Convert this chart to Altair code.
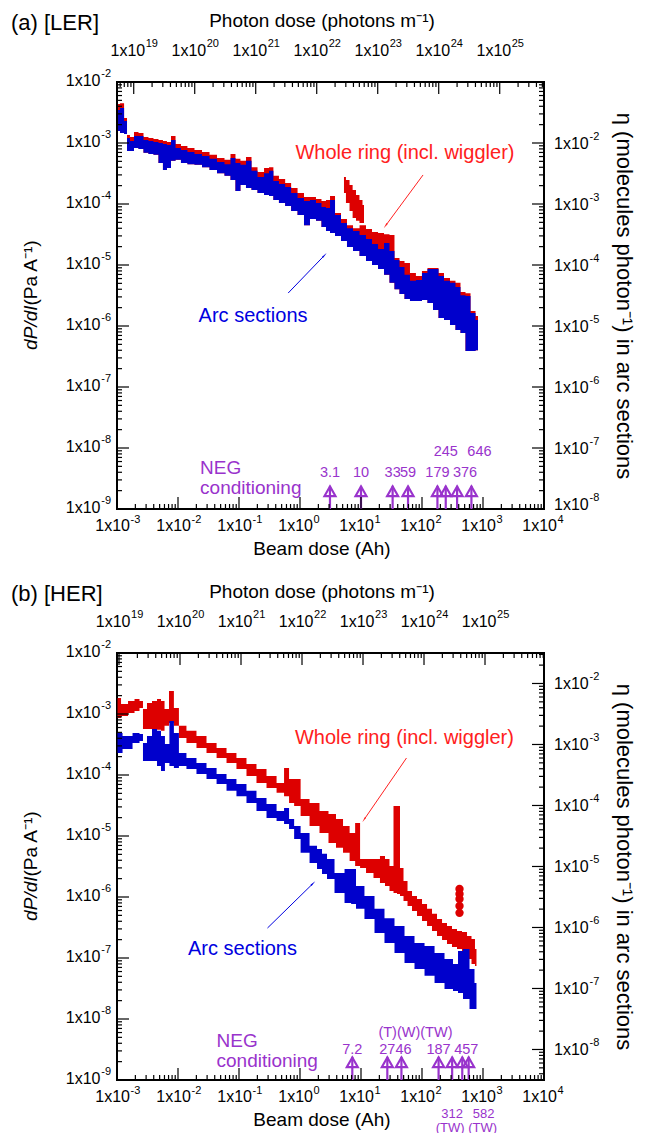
import math
import altair as alt
import pandas as pd

# ---------------- values ----------------
# (a) LER : beam dose (Ah) and dP/dI band (upper / lower edge, Pa/A)
ler_dose = [1.04e-3, 1.21e-3, 1.41e-3, 1.51e-3, 1.76e-3, 2.05e-3, 2.47e-3, 2.99e-3, 3.6e-3, 4.36e-3,
            5.26e-3, 6.1e-3, 7.1e-3, 8.3e-3, 1.0e-2, 1.25e-2, 1.63e-2, 2.13e-2, 2.88e-2, 3.75e-2,
            5.07e-2, 6.6e-2, 7.98e-2, 9.6e-2, 0.116, 0.146, 0.176, 0.23, 0.288, 0.335,
            0.40, 0.51, 0.64, 0.80, 1.04, 1.30, 1.63, 2.05, 2.47, 2.88,
            3.35, 4.2, 5.26, 6.6, 8.3, 10.8, 13.5, 17.0, 21.3, 26.7,
            32.2, 38.9, 47.0, 56.8, 71, 89, 112, 135, 170, 205,
            257, 322, 389, 470, 568, 686, 828]
ler_arc_hi = [3.47e-3, 3.75e-3, 2.30e-3, 1.21e-3, 1.08e-3, 1.30e-3, 1.30e-3, 1.12e-3, 1.08e-3, 1.04e-3,
              1.0e-3, 9.6e-4, 9.3e-4, 1.12e-3, 8.3e-4, 7.7e-4, 7.1e-4, 6.6e-4, 6.1e-4, 5.5e-4,
              4.9e-4, 4.5e-4, 5.7e-4, 4.7e-4, 4.4e-4, 5.1e-4, 3.5e-4, 2.77e-4, 3.2e-4, 3.5e-4,
              2.38e-4, 2.13e-4, 1.90e-4, 1.51e-4, 1.25e-4, 1.12e-4, 1.16e-4, 1.04e-4, 8.9e-5, 8.6e-5,
              1.16e-4, 6.6e-5, 4.9e-5, 4.0e-5, 3.6e-5, 3.1e-5, 2.67e-5, 2.21e-5, 1.83e-5, 2.3e-5,
              1.70e-5, 1.21e-5, 9.3e-6, 6.9e-6, 5.5e-6, 5.7e-6, 7.4e-6, 8.6e-6, 8.6e-6, 6.6e-6,
              5.5e-6, 5.1e-6, 4.36e-6, 3.2e-6, 3.1e-6, 1.63e-6, 1.25e-6]
ler_arc_lo = [1.57e-3, 1.46e-3, 1.41e-3, 7.4e-4, 7.4e-4, 8.3e-4, 8.0e-4, 6.9e-4, 6.6e-4, 6.4e-4,
              4.7e-4, 3.6e-4, 3.9e-4, 5.1e-4, 5.3e-4, 4.7e-4, 4.5e-4, 4.4e-4, 4.0e-4, 3.6e-4,
              3.2e-4, 2.9e-4, 2.47e-4, 1.63e-4, 2.05e-4, 1.83e-4, 1.70e-4, 1.51e-4, 1.41e-4, 1.35e-4,
              1.16e-4, 1.04e-4, 9.3e-5, 7.7e-5, 6.6e-5, 4.5e-5, 5.7e-5, 5.3e-5, 4.2e-5, 3.6e-5,
              3.35e-5, 3.0e-5, 2.47e-5, 1.97e-5, 1.70e-5, 1.41e-5, 1.16e-5, 1.0e-5, 8.6e-6, 6.9e-6,
              5.1e-6, 4.0e-6, 3.35e-6, 2.77e-6, 2.57e-6, 2.57e-6, 2.67e-6, 2.38e-6, 1.83e-6, 1.35e-6,
              1.25e-6, 1.04e-6, 8.6e-7, 7.7e-7, 3.9e-7, 3.9e-7, 4.0e-7]
ler_whole_hi = [4.36e-3, 4.5e-3, 2.57e-3, 1.35e-3, 1.25e-3, 1.51e-3, 1.46e-3, 1.25e-3, 1.21e-3, 1.16e-3,
                1.12e-3, 1.08e-3, 1.04e-3, 1.30e-3, 9.6e-4, 8.9e-4, 8.3e-4, 7.7e-4, 7.1e-4, 6.4e-4,
                5.7e-4, 5.3e-4, 6.6e-4, 5.5e-4, 5.1e-4, 5.9e-4, 4.0e-4, 3.35e-4, 3.9e-4, 4.0e-4,
                2.9e-4, 2.57e-4, 2.21e-4, 1.83e-4, 1.51e-4, 1.30e-4, 1.30e-4, 1.21e-4, 1.12e-4, 1.16e-4,
                1.35e-4, 7.1e-5, 5.7e-5, 4.5e-5, 4.0e-5, 4.5e-5, 3.9e-5, 3.47e-5, 3.35e-5, 3.2e-5,
                3.1e-5, 1.30e-5, 1.16e-5, 1.08e-5, 7.4e-6, 6.6e-6, 8.0e-6, 8.9e-6, 8.9e-6, 7.4e-6,
                6.1e-6, 5.5e-6, 5.1e-6, 3.6e-6, 3.45e-6, 1.76e-6, 1.46e-6]
ler_whole_lo = ler_arc_lo  # lower edge of the red band lies under the blue band
ler_wig_dose = [5.26, 6.1, 6.9, 7.7, 8.9, 10.0, 11.2]
ler_wig_hi = [2.77e-4, 2.47e-4, 2.05e-4, 1.70e-4, 1.41e-4, 1.16e-4, 9.6e-5]
ler_wig_lo = [1.51e-4, 1.04e-4, 7.7e-5, 5.9e-5, 5.3e-5, 4.9e-5, 4.9e-5]

# (b) HER
her_whole_dose = [1.02e-3, 1.33e-3, 1.73e-3, 2.17e-3, 2.52e-3, 2.82e-3, 3.41e-3, 4.12e-3, 4.98e-3, 5.57e-3,
                  6.5e-3, 7.8e-3, 9.4e-3, 1.14e-2, 1.66e-2, 2.43e-2, 3.54e-2, 5.2e-2, 7.5e-2, 0.110,
                  0.160, 0.234, 0.341, 0.50, 0.60, 0.73, 0.88, 1.19, 1.73, 2.52,
                  3.41, 4.44, 5.8, 7.3, 8.8, 10.6, 13.8, 18.6, 22.5, 27.2,
                  31.6, 36.8, 41.2, 46.1, 53.7, 62.4, 75.4, 91, 110, 133,
                  160, 194, 234, 282, 341, 412, 498, 601, 698, 782]
her_whole_hi = [1.83e-3, 1.46e-3, 1.63e-3, 1.76e-3, 1.63e-3, 1.21e-3, 1.51e-3, 1.63e-3, 1.76e-3, 1.63e-3,
                1.21e-3, 2.38e-3, 1.25e-3, 6.4e-4, 5.3e-4, 4.36e-4, 3.35e-4, 2.77e-4, 2.3e-4, 1.90e-4,
                1.51e-4, 1.25e-4, 9.6e-5, 7.4e-5, 1.30e-4, 8.6e-5, 8.6e-5, 4.05e-5, 3.47e-5, 2.57e-5,
                2.3e-5, 1.90e-5, 1.46e-5, 1.12e-5, 1.63e-5, 4.2e-6, 4.2e-6, 4.2e-6, 4.7e-6, 4.2e-6,
                3.22e-6, 3.1e-5, 3.1e-5, 2.99e-6, 1.83e-6, 1.25e-6, 1.04e-6, 9.3e-7, 7.7e-7, 6.4e-7,
                5.3e-7, 4.36e-7, 3.75e-7, 3.35e-7, 2.99e-7, 2.77e-7, 2.67e-7, 2.3e-7, 2.05e-7, 1.41e-7]
her_whole_lo = [8.6e-4, 9.3e-4, 1.04e-3, 1.12e-3, 1.25e-3, 5.7e-4, 5.7e-4, 5.7e-4, 5.5e-4, 5.3e-4,
                6.4e-4, 7.1e-4, 6.4e-4, 4.05e-4, 3.35e-4, 2.77e-4, 2.3e-4, 1.90e-4, 1.57e-4, 1.25e-4,
                9.6e-5, 7.4e-5, 6.1e-5, 5.1e-5, 4.5e-5, 3.47e-5, 3.1e-5, 2.13e-5, 1.46e-5, 1.12e-5,
                7.7e-6, 6.4e-6, 5.3e-6, 3.9e-6, 3.22e-6, 2.99e-6, 2.47e-6, 2.05e-6, 1.70e-6, 1.51e-6,
                1.25e-6, 1.16e-6, 1.12e-6, 1.04e-6, 8.6e-7, 7.1e-7, 5.9e-7, 4.9e-7, 4.05e-7, 3.35e-7,
                2.77e-7, 2.3e-7, 1.97e-7, 1.70e-7, 1.51e-7, 1.41e-7, 1.16e-7, 9.6e-8, 8.0e-8, 7.4e-8]
her_whole_dots_dose = [412, 412, 412, 412, 412]
her_whole_dots = [1.35e-6, 1.12e-6, 9.3e-7, 7.1e-7, 5.5e-7]
her_arc_dose = [1.02e-3, 1.49e-3, 2.17e-3, 2.52e-3, 2.82e-3, 3.41e-3, 4.12e-3, 4.98e-3, 5.57e-3, 6.7e-3,
                7.8e-3, 9.4e-3, 1.14e-2, 1.66e-2, 2.43e-2, 3.54e-2, 5.2e-2, 7.5e-2, 0.110, 0.160,
                0.234, 0.341, 0.50, 0.60, 0.73, 0.88, 1.19, 1.73, 2.09, 2.52,
                3.05, 4.44, 6.5, 7.3, 9.4, 13.8, 20.1, 29.3, 42.8, 62.4,
                91, 133, 194, 282, 368, 412, 537, 673, 782]
her_arc_hi = [4.9e-4, 4.36e-4, 4.9e-4, 4.7e-4, 3.35e-4, 4.36e-4, 5.7e-4, 5.3e-4, 4.36e-4, 3.22e-4,
              7.7e-4, 4.9e-4, 2.3e-4, 1.90e-4, 1.57e-4, 1.30e-4, 1.04e-4, 8.6e-5, 7.1e-5, 5.5e-5,
              4.2e-5, 3.35e-5, 2.57e-5, 2.88e-5, 1.90e-5, 1.46e-5, 1.12e-5, 6.9e-6, 6.1e-6, 5.1e-6,
              4.2e-6, 2.47e-6, 2.88e-6, 2.88e-6, 1.51e-6, 1.04e-6, 6.4e-7, 4.5e-7, 3.35e-7, 2.3e-7,
              1.76e-7, 1.57e-7, 1.21e-7, 9.6e-8, 8.0e-8, 1.30e-7, 1.41e-7, 6.6e-8, 3.9e-8]
her_arc_lo = [2.3e-4, 2.67e-4, 3.35e-4, 3.6e-4, 1.70e-4, 1.70e-4, 1.70e-4, 1.41e-4, 1.16e-4, 1.57e-4,
              1.41e-4, 1.30e-4, 1.41e-4, 1.25e-4, 1.04e-4, 8.6e-5, 7.1e-5, 5.5e-5, 4.5e-5, 3.47e-5,
              2.57e-5, 1.97e-5, 1.76e-5, 1.57e-5, 1.30e-5, 8.9e-6, 5.3e-6, 3.6e-6, 2.88e-6, 2.38e-6,
              1.97e-6, 1.16e-6, 8.0e-7, 7.7e-7, 6.4e-7, 4.36e-7, 2.57e-7, 1.76e-7, 1.21e-7, 8.3e-8,
              6.6e-8, 5.1e-8, 3.9e-8, 3.1e-8, 2.88e-8, 2.67e-8, 2.13e-8, 1.46e-8, 1.46e-8]

# NEG conditioning doses (Ah)
ler_neg_dose = [3.1, 10, 33, 59, 179, 245, 376, 646]
ler_neg_text = ["3.1", "10", "33", "59", "179", "245", "376", "646"]
her_neg_dose = [7.2, 27, 46, 187, 312, 457, 582]
her_neg_text = ["7.2", "27", "46", "187", "312", "457", "582"]

# axis ranges
beam_range = [1e-3, 1e4]
dpdi_range = [1e-9, 1e-2]
ler_photon_range = [5.32e18, 5.32e25]
her_photon_range = [9.27e18, 9.27e25]
ler_eta_range = [1e-8, 1e-1]
her_eta_range = [3.16e-9, 3.16e-2]

# ---------------- styling ----------------
W = H = 427
FONT = "Liberation Sans"
RED, BLUE, PURPLE = "#DD0000", "#0000CC", "#9933CC"
TXT_RED, TXT_BLUE = "#FF2020", "#0000E0"
LBL, SUPSZ = 16, 11
TITLE_X = W / 2 - 9


def decades(dmin, dmax):
    e0, e1 = math.floor(math.log10(dmin)), math.ceil(math.log10(dmax))
    major, minor = [], []
    for e in range(e0, e1 + 1):
        for m in range(1, 10):
            v = m * 10.0 ** e
            if dmin * 0.9999 <= v <= dmax * 1.0001:
                (major if m == 1 else minor).append(v)
    return major, minor


def label_df(values, field):
    return pd.DataFrame({field: values, "base": ["1x10"] * len(values),
                         "sup": [str(round(math.log10(v))) for v in values]})


def title_axis(**kw):
    d = dict(labels=False, ticks=False, tickSize=0, domain=False, grid=False)
    d.update(kw)
    return alt.Axis(**d)


XMAJ, XMIN = decades(*beam_range)
YMAJ, YMIN = decades(*dpdi_range)
XS = alt.Scale(type="log", domain=beam_range)
YS = alt.Scale(type="log", domain=dpdi_range)
XAX = title_axis(orient="bottom", title="Beam dose (Ah)", titlePadding=30, titleX=TITLE_X)


def ex(f="x"):
    return alt.X(f"{f}:Q", scale=XS, axis=XAX)


def ey(f="y"):
    return alt.Y(f"{f}:Q", scale=YS, axis=None)


def band(dose, hi, lo, color):
    df = pd.DataFrame({"x": dose, "y": hi, "y2": lo})
    return alt.Chart(df).mark_area(color=color, opacity=1, interpolate="step").encode(
        x=ex(), y=ey(), y2="y2:Q")


def texts(xs, ys, ts, color, size, align="center", dx=0, **kw):
    df = pd.DataFrame({"x": xs, "y": ys, "t": ts})
    return alt.Chart(df).mark_text(color=color, fontSize=size, align=align, dx=dx,
                                   baseline="middle", font=FONT, **kw).encode(
        x=ex(), y=ey(), text="t:N")


def arrow(x1, y1, x2, y2, color, angle):
    df = pd.DataFrame({"x": [x1], "y": [y1], "x2": [x2], "y2": [y2]})
    line = alt.Chart(df).mark_rule(color=color, strokeWidth=1).encode(
        x=ex(), y=ey(), x2="x2:Q", y2="y2:Q")
    head = alt.Chart(df).mark_point(shape="wedge", filled=True, color=color, size=45,
                                    angle=angle, opacity=1).encode(x=ex("x2"), y=ey("y2"))
    return [line, head]


def neg_arrows(doses):
    n = len(doses)
    df = pd.DataFrame({"x": doses, "y": [1e-9] * n, "y2": [2.4e-9] * n, "yt": [1.95e-9] * n})
    shaft = alt.Chart(df).mark_rule(color=PURPLE, strokeWidth=2.2).encode(x=ex(), y=ey(), y2="y2:Q")
    tri = alt.Chart(df).mark_point(shape="triangle-up", filled=False, color=PURPLE,
                                   strokeWidth=2.2, size=120, opacity=1).encode(x=ex(), y=ey("yt"))
    return [shaft, tri]


def rule_ticks(vals, field, enc):
    return alt.Chart(pd.DataFrame({field: vals})).mark_rule(color="black", strokeWidth=1.2).encode(**enc)


def inner_axes():
    out = []
    for vals, ln in ((XMAJ, 12), (XMIN, 5)):
        out.append(rule_ticks(vals, "x", dict(x=ex(), y=alt.value(H), y2=alt.value(H - ln))))
    for vals, ln in ((YMAJ, 12), (YMIN, 5)):
        out.append(rule_ticks(vals, "y", dict(y=ey(), x=alt.value(0), x2=alt.value(ln))))
    # bottom labels 1x10^n
    bd = label_df(XMAJ, "x")
    out.append(alt.Chart(bd).mark_text(align="right", baseline="middle", fontSize=LBL, dx=13,
                                       color="black").encode(x=ex(), y=alt.value(H + 17), text="base:N"))
    out.append(alt.Chart(bd).mark_text(align="left", baseline="middle", fontSize=SUPSZ, dx=13.5,
                                       color="black").encode(x=ex(), y=alt.value(H + 11), text="sup:N"))
    # left labels
    ld = label_df(YMAJ, "y")
    out.append(alt.Chart(ld).mark_text(align="right", baseline="middle", fontSize=LBL, dy=-1,
                                       color="black").encode(y=ey(), x=alt.value(-16.5), text="base:N"))
    out.append(alt.Chart(ld).mark_text(align="right", baseline="middle", fontSize=SUPSZ, dy=-8,
                                       color="black").encode(y=ey(), x=alt.value(-6), text="sup:N"))
    # left title: italic dP/dI followed by (Pa A^-1)
    t1 = pd.DataFrame({"t": ["dP/dI"]})
    t2 = pd.DataFrame({"t": ["\u00a0(Pa A⁻¹)"]})
    out.append(alt.Chart(t1).mark_text(angle=270, align="right", baseline="middle", fontSize=19,
                                       fontStyle="italic", color="black").encode(
        x=alt.value(-86), y=alt.value(H / 2 + 10), text="t:N"))
    out.append(alt.Chart(t2).mark_text(angle=270, align="left", baseline="middle", fontSize=19,
                                       color="black").encode(
        x=alt.value(-86), y=alt.value(H / 2 + 10), text="t:N"))
    return out


def top_axis(prange):
    maj, mnr = decades(*prange)
    sc = alt.Scale(type="log", domain=prange)
    ax = title_axis(orient="top", title="Photon dose (photons m⁻¹)", titlePadding=52, titleX=TITLE_X)
    px = alt.X("p:Q", scale=sc, axis=ax)
    layers = [rule_ticks(maj, "p", dict(x=px, y=alt.value(0), y2=alt.value(12))),
              rule_ticks(mnr, "p", dict(x=px, y=alt.value(0), y2=alt.value(5)))]
    td = label_df(maj, "p")
    layers.append(alt.Chart(td).mark_text(align="right", baseline="middle", fontSize=LBL, dx=11.5,
                                          color="black").encode(x=px, y=alt.value(-31), text="base:N"))
    layers.append(alt.Chart(td).mark_text(align="left", baseline="middle", fontSize=SUPSZ, dx=12,
                                          color="black").encode(x=px, y=alt.value(-38), text="sup:N"))
    return alt.layer(*layers)


def right_axis(erange):
    maj, mnr = decades(*erange)
    labelled = [v for v in maj if v < 0.05]
    corner = [v for v in labelled if v <= erange[0] * 1.001]      # label sitting at the bottom corner
    normal = [v for v in labelled if v not in corner]
    sc = alt.Scale(type="log", domain=erange)
    ax = title_axis(orient="right", title="η (molecules photon⁻¹) in arc sections",
                    titlePadding=67, titleFontSize=22)
    py = alt.Y("e:Q", scale=sc, axis=ax)
    layers = [rule_ticks(maj, "e", dict(y=py, x=alt.value(W), x2=alt.value(W - 12))),
              rule_ticks(mnr, "e", dict(y=py, x=alt.value(W), x2=alt.value(W - 5)))]
    for vals, shift in ((normal, 1), (corner, -4)):
        if not vals:
            continue
        rd = label_df(vals, "e")
        layers.append(alt.Chart(rd).mark_text(align="left", baseline="middle", fontSize=LBL, dy=shift,
                                              color="black").encode(y=py, x=alt.value(W + 10), text="base:N"))
        layers.append(alt.Chart(rd).mark_text(align="left", baseline="middle", fontSize=SUPSZ, dy=shift - 7,
                                              color="black").encode(y=py, x=alt.value(W + 45.5), text="sup:N"))
    return alt.layer(*layers)


def tag_text(label):
    df = pd.DataFrame({"t": [label]})
    return alt.Chart(df).mark_text(align="left", baseline="middle", fontSize=22, font=FONT,
                                   color="black").encode(x=alt.value(-106), y=alt.value(-59), text="t:N")


def panel(inner_layers, prange, erange):
    inner = alt.layer(*inner_layers)
    return alt.layer(inner, top_axis(prange), right_axis(erange)).resolve_scale(
        x="independent", y="independent").properties(width=W, height=H)


# ---------------- panel (a) LER ----------------
raised = ["245", "646"]
shifted = ["376", "646"]
row_x = [d for d, t in zip(ler_neg_dose, ler_neg_text) if t not in raised and t not in shifted]
row_t = [t for t in ler_neg_text if t not in raised and t not in shifted]
a_layers = [
    band(ler_dose, ler_whole_hi, ler_whole_lo, RED),
    band(ler_wig_dose, ler_wig_hi, ler_wig_lo, RED),
    band(ler_dose, ler_arc_hi, ler_arc_lo, BLUE),
    texts([52.6], [6.9e-4], ["Whole ring (incl. wiggler)"], TXT_RED, 20),
    texts([0.17], [1.46e-6], ["Arc sections"], TXT_BLUE, 20),
    *arrow(104, 2.99e-4, 25.7, 4.5e-5, TXT_RED, 216),
    *arrow(0.64, 3.47e-6, 2.47, 1.41e-5, TXT_BLUE, 44),
    *neg_arrows(ler_neg_dose),
    texts([0.023, 0.023], [4.7e-9, 2.2e-9], ["NEG", "conditioning"], PURPLE, 19, align="left"),
    texts(row_x, [3.9e-9] * len(row_x), row_t, PURPLE, 14.5),
    texts([376], [3.9e-9], ["376"], PURPLE, 14.5, dx=8),
    texts([245], [8.6e-9], ["245"], PURPLE, 14.5),
    texts([646], [8.6e-9], ["646"], PURPLE, 14.5, dx=8),
    tag_text("(a) [LER]"),
    *inner_axes(),
]
panel_a = panel(a_layers, ler_photon_range, ler_eta_range)

# ---------------- panel (b) HER ----------------
b_layers = [
    band(her_whole_dose, her_whole_hi, her_whole_lo, RED),
    alt.Chart(pd.DataFrame({"x": her_whole_dots_dose, "y": her_whole_dots})).mark_circle(
        color=RED, size=70, opacity=1).encode(x=ex(), y=ey()),
    band(her_arc_dose, her_arc_hi, her_arc_lo, BLUE),
    texts([51.6], [4.05e-4], ["Whole ring (incl. wiggler)"], TXT_RED, 20),
    texts([0.114], [1.41e-7], ["Arc sections"], TXT_BLUE, 20),
    *arrow(55.7, 1.90e-4, 11.4, 1.90e-5, TXT_RED, 214),
    *arrow(0.293, 3.1e-7, 1.60, 1.63e-6, TXT_BLUE, 46),
    *neg_arrows(her_neg_dose),
    texts([0.0428, 0.0428], [4.36e-9, 2.05e-9], ["NEG", "conditioning"], PURPLE, 19, align="left"),
    texts([7.2, 187], [3.1e-9] * 2, ["7.2", "187"], PURPLE, 14.5),
    texts([27], [3.1e-9], ["27"], PURPLE, 14.5, align="right", dx=8),
    texts([46], [3.1e-9], ["46"], PURPLE, 14.5, align="left", dx=-6),
    texts([457], [3.1e-9], ["457"], PURPLE, 14.5, dx=4),
    texts([46], [5.9e-9], ["(T)(W)(TW)"], PURPLE, 14.5, dx=14),
    texts([312], [2.75e-10], ["312"], PURPLE, 13),
    texts([312], [1.65e-10], ["(TW)"], PURPLE, 13, dx=-2),
    texts([582], [2.75e-10], ["582"], PURPLE, 13, dx=15),
    texts([582], [1.65e-10], ["(TW)"], PURPLE, 13, dx=14),
    tag_text("(b) [HER]"),
    *inner_axes(),
]
panel_b = panel(b_layers, her_photon_range, her_eta_range)

chart = alt.vconcat(panel_a, panel_b, spacing=22).properties(
    padding={"left": 2, "top": 2, "right": 2, "bottom": 0}
).configure_view(stroke="black", strokeWidth=2).configure_axis(
    titleFont=FONT, titleFontSize=19, titleFontWeight="normal", titleColor="black"
).configure_text(font=FONT)

chart.save("out.html", embed_options={"renderer": "svg", "actions": False})
